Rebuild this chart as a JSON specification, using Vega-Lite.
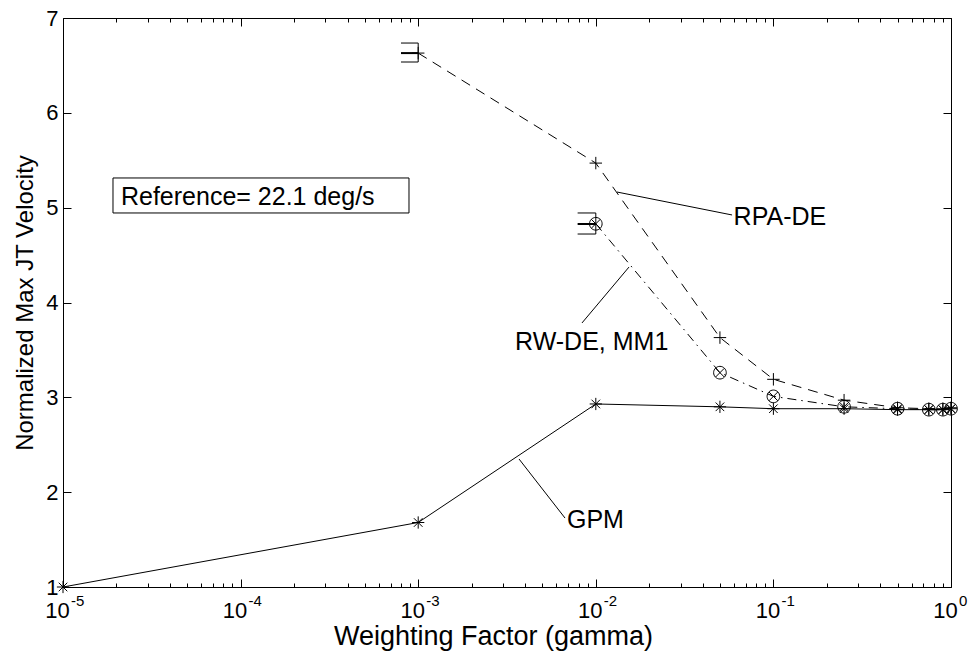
{
  "$schema": "https://vega.github.io/schema/vega-lite/v6.json",
  "width": 888,
  "height": 569,
  "autosize": {"type": "none"},
  "padding": {"left": 63, "top": 18, "right": 25, "bottom": 69},
  "background": "white",
  "config": {
    "view": {"stroke": null},
    "font": "Liberation Sans",
    "axis": {
      "domainColor": "black",
      "tickColor": "black",
      "labelColor": "black",
      "titleColor": "black",
      "labelFont": "Liberation Sans",
      "titleFont": "Liberation Sans",
      "grid": false,
      "domainWidth": 1,
      "tickWidth": 1,
      "labelFlush": false,
      "labelOverlap": false,
      "titleFontWeight": "normal"
    }
  },
  "datasets": {
    "pts": [
      {"series": "GPM", "gamma": 0.00001, "value": 1.0},
      {"series": "GPM", "gamma": 0.001, "value": 1.68},
      {"series": "GPM", "gamma": 0.01, "value": 2.93},
      {"series": "GPM", "gamma": 0.05, "value": 2.9},
      {"series": "GPM", "gamma": 0.1, "value": 2.88},
      {"series": "GPM", "gamma": 0.25, "value": 2.88},
      {"series": "GPM", "gamma": 0.5, "value": 2.87},
      {"series": "GPM", "gamma": 0.75, "value": 2.87},
      {"series": "GPM", "gamma": 0.9, "value": 2.87},
      {"series": "GPM", "gamma": 1.0, "value": 2.88},
      {"series": "RPA-DE", "gamma": 0.001, "value": 6.63},
      {"series": "RPA-DE", "gamma": 0.01, "value": 5.47},
      {"series": "RPA-DE", "gamma": 0.05, "value": 3.63},
      {"series": "RPA-DE", "gamma": 0.1, "value": 3.19},
      {"series": "RPA-DE", "gamma": 0.25, "value": 2.97},
      {"series": "RPA-DE", "gamma": 0.5, "value": 2.89},
      {"series": "RPA-DE", "gamma": 0.75, "value": 2.88},
      {"series": "RPA-DE", "gamma": 0.9, "value": 2.88},
      {"series": "RPA-DE", "gamma": 1.0, "value": 2.89},
      {"series": "RW-DE, MM1", "gamma": 0.01, "value": 4.83},
      {"series": "RW-DE, MM1", "gamma": 0.05, "value": 3.26},
      {"series": "RW-DE, MM1", "gamma": 0.1, "value": 3.01},
      {"series": "RW-DE, MM1", "gamma": 0.25, "value": 2.9},
      {"series": "RW-DE, MM1", "gamma": 0.5, "value": 2.88},
      {"series": "RW-DE, MM1", "gamma": 0.75, "value": 2.87},
      {"series": "RW-DE, MM1", "gamma": 0.9, "value": 2.87},
      {"series": "RW-DE, MM1", "gamma": 1.0, "value": 2.88}
    ],
    "segs": [
      {"kind": "cap", "x1": 0.0008, "x2": 0.001, "y1": 6.736, "y2": 6.736},
      {"kind": "mid", "x1": 0.0008, "x2": 0.001, "y1": 6.63, "y2": 6.63},
      {"kind": "cap", "x1": 0.0008, "x2": 0.001, "y1": 6.536, "y2": 6.536},
      {"kind": "cap", "x1": 0.001, "x2": 0.001, "y1": 6.536, "y2": 6.736},
      {"kind": "cap", "x1": 0.0079, "x2": 0.01, "y1": 4.944, "y2": 4.944},
      {"kind": "mid", "x1": 0.0079, "x2": 0.01, "y1": 4.828, "y2": 4.828},
      {"kind": "cap", "x1": 0.0079, "x2": 0.01, "y1": 4.722, "y2": 4.722},
      {"kind": "cap", "x1": 0.01, "x2": 0.01, "y1": 4.722, "y2": 4.944},
      {"kind": "leader", "x1": 0.01316, "x2": 0.0585, "y1": 5.165, "y2": 4.923},
      {"kind": "leader", "x1": 0.00836, "x2": 0.01538, "y1": 3.784, "y2": 4.374},
      {"kind": "leader", "x1": 0.003695, "x2": 0.00671, "y1": 2.35, "y2": 1.727}
    ],
    "labels": [
      {"text": "RPA-DE", "gamma": 0.0597, "value": 4.9},
      {"text": "RW-DE, MM1", "gamma": 0.00351, "value": 3.583},
      {"text": "GPM", "gamma": 0.00688, "value": 1.706},
      {"text": "Reference= 22.1 deg/s", "gamma": 0.0000212, "value": 5.112}
    ],
    "box": [
      {"x1": 0.00001912, "x2": 0.0008875, "y1": 5.313, "y2": 4.944}
    ],
    "exps": [
      {"gamma": 0.00001, "e": "-5"},
      {"gamma": 0.0001, "e": "-4"},
      {"gamma": 0.001, "e": "-3"},
      {"gamma": 0.01, "e": "-2"},
      {"gamma": 0.1, "e": "-1"},
      {"gamma": 1, "e": "0"}
    ]
  },
  "layer": [
    {
      "data": {"name": "box"},
      "mark": {"type": "rect", "fill": "white", "stroke": "black", "strokeWidth": 1},
      "encoding": {
        "x": {"field": "x1", "type": "quantitative", "scale": {"type": "log", "domain": [0.00001, 1], "nice": false}, "axis": null},
        "x2": {"field": "x2"},
        "y": {"field": "y1", "type": "quantitative", "scale": {"domain": [1, 7], "nice": false, "zero": false}, "axis": null},
        "y2": {"field": "y2"}
      }
    },
    {
      "data": {"name": "pts"},
      "transform": [{"filter": "datum.series === 'GPM'"}],
      "mark": {"type": "line", "color": "black", "strokeWidth": 1},
      "encoding": {
        "x": {
          "field": "gamma", "type": "quantitative",
          "scale": {"type": "log", "domain": [0.00001, 1], "nice": false},
          "axis": {
            "orient": "bottom",
            "values": [0.00001, 0.0001, 0.001, 0.01, 0.1, 1],
            "labelExpr": "'10'",
            "labelFontSize": 22,
            "labelOffset": -6,
            "tickSize": -8,
            "labelPadding": 21,
            "title": "Weighting Factor (gamma)",
            "titleFontSize": 27,
            "titlePadding": 2,
            "titleX": 430
          }
        },
        "y": {
          "field": "value", "type": "quantitative",
          "scale": {"domain": [1, 7], "nice": false, "zero": false},
          "axis": {
            "orient": "left",
            "values": [1, 2, 3, 4, 5, 6, 7],
            "labelFontSize": 22,
            "tickSize": -8,
            "labelPadding": 13,
            "title": "Normalized Max JT Velocity",
            "titleFontSize": 24,
            "titlePadding": 8
          }
        }
      }
    },
    {
      "data": {"name": "pts"},
      "transform": [{"filter": "datum.series === 'RPA-DE'"}],
      "mark": {"type": "line", "color": "black", "strokeWidth": 1, "strokeDash": [10, 7]},
      "encoding": {
        "x": {"field": "gamma", "type": "quantitative", "axis": null},
        "y": {"field": "value", "type": "quantitative", "axis": null}
      }
    },
    {
      "data": {"name": "pts"},
      "transform": [{"filter": "datum.series === 'RW-DE, MM1'"}],
      "mark": {"type": "line", "color": "black", "strokeWidth": 1, "strokeDash": [9, 5, 1.5, 5]},
      "encoding": {
        "x": {"field": "gamma", "type": "quantitative", "axis": null},
        "y": {"field": "value", "type": "quantitative", "axis": null}
      }
    },
    {
      "data": {"name": "segs"},
      "mark": {"type": "rule", "color": "black"},
      "encoding": {
        "x": {"field": "x1", "type": "quantitative", "axis": null},
        "x2": {"field": "x2"},
        "y": {"field": "y1", "type": "quantitative", "axis": null},
        "y2": {"field": "y2"},
        "strokeWidth": {"condition": {"test": "datum.kind === 'mid'", "value": 2}, "value": 1}
      }
    },
    {
      "data": {"name": "pts"},
      "mark": {"type": "point", "filled": false, "stroke": "black", "strokeWidth": 1, "opacity": 1},
      "encoding": {
        "x": {"field": "gamma", "type": "quantitative", "axis": null},
        "y": {"field": "value", "type": "quantitative", "axis": null},
        "shape": {
          "field": "series", "type": "nominal", "legend": null,
          "scale": {
            "domain": ["GPM", "RPA-DE", "RW-DE, MM1"],
            "range": [
              "M-1,0L1,0M0,-1L0,1M-0.7,-0.7L0.7,0.7M-0.7,0.7L0.7,-0.7",
              "M-1,0L1,0M0,-1L0,1",
              "M1,0A1,1,0,1,1,-1,0A1,1,0,1,1,1,0ZM-0.7,-0.7L0.7,0.7M-0.7,0.7L0.7,-0.7"
            ]
          }
        },
        "size": {
          "field": "series", "type": "nominal", "legend": null,
          "scale": {"domain": ["GPM", "RPA-DE", "RW-DE, MM1"], "range": [150, 160, 130]}
        }
      }
    },
    {
      "data": {"name": "labels"},
      "mark": {"type": "text", "align": "left", "baseline": "middle", "fontSize": 25, "font": "Liberation Sans", "color": "black"},
      "encoding": {
        "x": {"field": "gamma", "type": "quantitative", "axis": null},
        "y": {"field": "value", "type": "quantitative", "axis": null},
        "text": {"field": "text"}
      }
    },
    {
      "data": {"name": "exps"},
      "mark": {"type": "text", "align": "left", "baseline": "alphabetic", "fontSize": 15, "font": "Liberation Sans", "color": "black", "dx": 8, "dy": 19},
      "encoding": {
        "x": {"field": "gamma", "type": "quantitative", "axis": null},
        "y": {"datum": 1, "type": "quantitative", "axis": null},
        "text": {"field": "e"}
      }
    },
    {
      "data": {"name": "pts"},
      "mark": {"type": "point", "opacity": 0},
      "encoding": {
        "x": {"field": "gamma", "type": "quantitative",
          "axis": {"orient": "top", "values": [0.00001, 0.0001, 0.001, 0.01, 0.1, 1], "labels": false, "tickSize": -8, "title": null}},
        "y": {"field": "value", "type": "quantitative",
          "axis": {"orient": "right", "values": [1, 2, 3, 4, 5, 6, 7], "labels": false, "tickSize": -8, "title": null}}
      }
    },
    {
      "data": {"name": "pts"},
      "mark": {"type": "point", "opacity": 0},
      "encoding": {
        "x": {"field": "gamma", "type": "quantitative",
          "axis": {"orient": "bottom", "domain": false, "labels": false, "tickSize": -4, "title": null,
            "values": [0.00002, 0.00003, 0.00004, 0.00005, 0.00006, 0.00007, 0.00008, 0.00009, 0.0002, 0.0003, 0.0004, 0.0005, 0.0006, 0.0007, 0.0008, 0.0009, 0.002, 0.003, 0.004, 0.005, 0.006, 0.007, 0.008, 0.009, 0.02, 0.03, 0.04, 0.05, 0.06, 0.07, 0.08, 0.09, 0.2, 0.3, 0.4, 0.5, 0.6, 0.7, 0.8, 0.9]}},
        "y": {"field": "value", "type": "quantitative", "axis": null}
      }
    },
    {
      "data": {"name": "pts"},
      "mark": {"type": "point", "opacity": 0},
      "encoding": {
        "x": {"field": "gamma", "type": "quantitative",
          "axis": {"orient": "top", "domain": false, "labels": false, "tickSize": -4, "title": null,
            "values": [0.00002, 0.00003, 0.00004, 0.00005, 0.00006, 0.00007, 0.00008, 0.00009, 0.0002, 0.0003, 0.0004, 0.0005, 0.0006, 0.0007, 0.0008, 0.0009, 0.002, 0.003, 0.004, 0.005, 0.006, 0.007, 0.008, 0.009, 0.02, 0.03, 0.04, 0.05, 0.06, 0.07, 0.08, 0.09, 0.2, 0.3, 0.4, 0.5, 0.6, 0.7, 0.8, 0.9]}},
        "y": {"field": "value", "type": "quantitative", "axis": null}
      }
    }
  ],
  "resolve": {"axis": {"x": "independent", "y": "independent"}}
}
